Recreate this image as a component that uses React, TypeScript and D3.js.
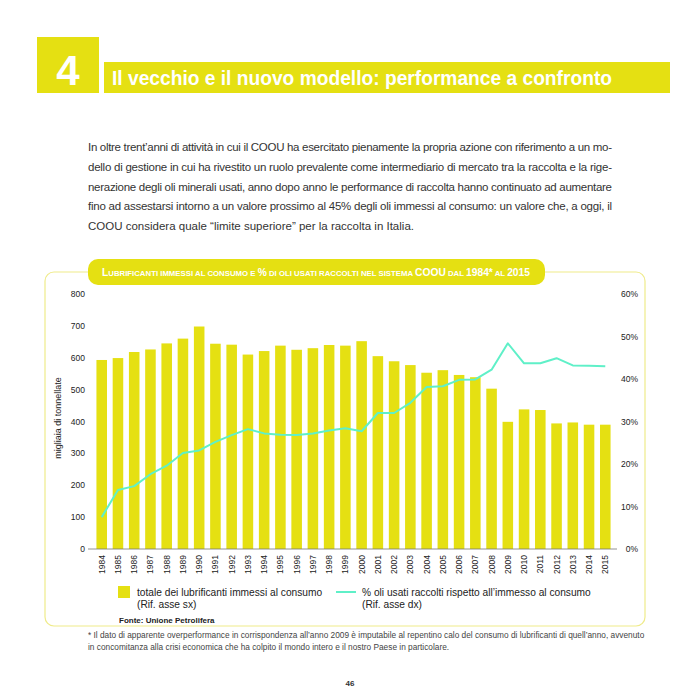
import React from "react";
import * as d3 from "d3";

const years = d3.range(1984, 2016).map(String);

// migliaia di tonnellate
const lubrificanti = [
  593, 599, 618, 626, 645, 660, 698, 644, 641, 610, 621, 638, 625, 630, 640, 638,
  652, 605, 589, 577, 553, 561, 546, 539, 503, 399, 438, 436, 394, 397, 390, 390,
];

// % oli usati raccolti
const raccolta = [
  7.5, 13.9, 14.8, 17.6, 19.6, 22.6, 23.2, 25.2, 26.8, 28.2, 27.2, 26.9, 26.8, 27.2,
  27.9, 28.4, 27.7, 32.0, 32.0, 34.4, 38.1, 38.3, 39.8, 39.9, 42.2, 48.4, 43.7, 43.7,
  44.9, 43.2, 43.1, 43.0,
];

const leftTicks = [0, 100, 200, 300, 400, 500, 600, 700, 800];
const rightTicks = [0, 10, 20, 30, 40, 50, 60];

const bodyLines = [
  "In oltre trent’anni di attività in cui il COOU ha esercitato pienamente la propria azione con riferimento a un mo-",
  "dello di gestione in cui ha rivestito un ruolo prevalente come intermediario di mercato tra la raccolta e la rige-",
  "nerazione degli oli minerali usati, anno dopo anno le performance di raccolta hanno continuato ad aumentare",
  "fino ad assestarsi intorno a un valore prossimo al 45% degli oli immessi al consumo: un valore che, a oggi, il",
  "COOU considera quale “limite superiore” per la raccolta in Italia.",
];

const footnoteLines = [
  "* Il dato di apparente overperformance in corrispondenza all’anno 2009 è imputabile al repentino calo del consumo di lubrificanti di quell’anno, avvenuto",
  "in concomitanza alla crisi economica che ha colpito il mondo intero e il nostro Paese in particolare.",
];

// small caps title: [text, isCapital]
const chartTitle: [string, boolean][] = [
  ["L", true],
  ["UBRIFICANTI IMMESSI AL CONSUMO E ", false],
  ["%", true],
  [" DI OLI USATI RACCOLTI NEL SISTEMA ", false],
  ["COOU", true],
  [" DAL ", false],
  ["1984*", true],
  [" AL ", false],
  ["2015", true],
];

const YELLOW = "#e5e012";
const LINE = "#5ff0c8";
const FONT = "'Liberation Sans', Arial, Helvetica, sans-serif";

export default function App() {
  const x = d3.scaleBand().domain(years).range([94, 613]).paddingInner(0.35).paddingOuter(0.15);
  const yLeft = d3.scaleLinear().domain([0, 800]).range([549, 294]);
  const yRight = d3.scaleLinear().domain([0, 60]).range([549, 294]);

  const line = d3
    .line<number>()
    .x((_, i) => (x(years[i]) ?? 0) + x.bandwidth() / 2)
    .y((d) => yRight(d));

  return (
    <svg
      width={700}
      height={700}
      style={{ position: "absolute", left: 0, top: 0, background: "#fff" }}
      fontFamily={FONT}
    >
      {/* header */}
      <rect x={37} y={37} width={62} height={56} fill={YELLOW} />
      <text x={68} y={85} textAnchor="middle" fill="#fff" fontSize={42} fontWeight="bold">
        4
      </text>
      <rect x={104} y={62} width={566} height={31} fill={YELLOW} />
      <text x={112} y={85} fill="#fff" fontSize={20} fontWeight="bold" textLength={500} lengthAdjust="spacingAndGlyphs">
        Il vecchio e il nuovo modello: performance a confronto
      </text>

      {/* body text */}
      {bodyLines.map((l, i) => (
        <text
          key={i}
          x={88}
          y={151 + i * 19.8}
          fontSize={11.5}
          fill="#333"
          textLength={i < 4 ? 524 : undefined}
          lengthAdjust="spacing"
        >
          {l}
        </text>
      ))}

      {/* frame */}
      <rect x={45} y={272} width={600} height={354} rx={9} fill="none" stroke="#efeb8a" strokeWidth={1.2} />
      <rect x={88} y={259} width={457} height={26} rx={10} fill={YELLOW} />
      <text x={102} y={276} fill="#fff" fontWeight="bold" textLength={428} lengthAdjust="spacingAndGlyphs">
        {chartTitle.map(([t, big], i) => (
          <tspan key={i} fontSize={big ? 10 : 7.6}>
            {t}
          </tspan>
        ))}
      </text>

      {/* axes labels */}
      {leftTicks.map((t) => (
        <text key={t} x={85} y={yLeft(t) + 3} textAnchor="end" fontSize={8.5} fill="#222">
          {t}
        </text>
      ))}
      {rightTicks.map((t) => (
        <text key={t} x={638} y={yRight(t) + 3} textAnchor="end" fontSize={8.5} fill="#222">
          {t}%
        </text>
      ))}
      <text
        transform={`translate(61, ${418}) rotate(-90)`}
        textAnchor="middle"
        fontSize={9}
        fill="#222"
      >
        migliaia di tonnellate
      </text>

      {/* bars */}
      {lubrificanti.map((v, i) => (
        <rect
          key={years[i]}
          x={x(years[i])}
          y={yLeft(v)}
          width={x.bandwidth()}
          height={yLeft(0) - yLeft(v)}
          fill={YELLOW}
        />
      ))}
      <line x1={88} x2={617} y1={yLeft(0)} y2={yLeft(0)} stroke="#777" strokeWidth={0.8} />

      {/* line */}
      <path d={line(raccolta) ?? ""} fill="none" stroke={LINE} strokeWidth={2} strokeLinejoin="round" />

      {/* years */}
      {years.map((yr) => (
        <text
          key={yr}
          transform={`translate(${(x(yr) ?? 0) + x.bandwidth() / 2 + 3}, 555) rotate(-90)`}
          textAnchor="end"
          fontSize={8.5}
          fill="#222"
        >
          {yr}
        </text>
      ))}

      {/* legend */}
      <rect x={118} y={586} width={12} height={12} fill={YELLOW} />
      <text x={137} y={596} fontSize={10.2} fill="#222">
        totale dei lubrificanti immessi al consumo
      </text>
      <text x={137} y={608} fontSize={10.2} fill="#222">
        (Rif. asse sx)
      </text>
      <line x1={336} x2={356} y1={592} y2={592} stroke={LINE} strokeWidth={2} />
      <text x={362} y={596} fontSize={10.2} fill="#222">
        % oli usati raccolti rispetto all’immesso al consumo
      </text>
      <text x={362} y={608} fontSize={10.2} fill="#222">
        (Rif. asse dx)
      </text>
      <text x={119} y={623} fontSize={8} fill="#222" fontWeight="bold">
        Fonte: Unione Petrolifera
      </text>

      {/* footnote */}
      {footnoteLines.map((l, i) => (
        <text key={i} x={88} y={638 + i * 12} fontSize={8.3} fill="#444">
          {l}
        </text>
      ))}
      <text x={350} y={686} textAnchor="middle" fontSize={8} fontWeight="bold" fill="#333">
        46
      </text>
    </svg>
  );
}
